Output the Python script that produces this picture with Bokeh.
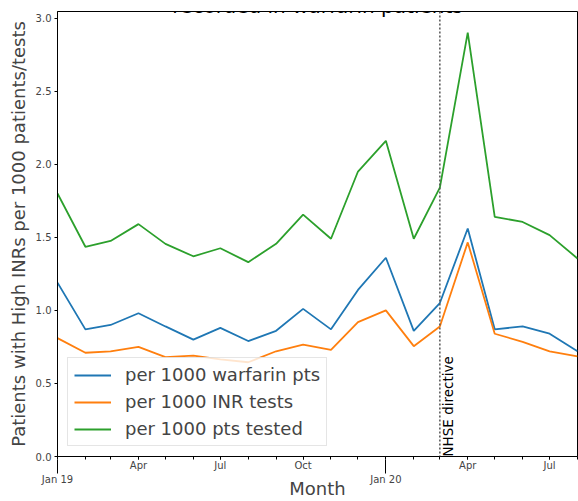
import math
import pandas as pd
from bokeh.plotting import figure
from bokeh.models import (Range1d, FixedTicker, DatetimeTickFormatter, DatetimeAxis,
                          PrintfTickFormatter, Label, Span)
from bokeh.embed import file_html
from bokeh.resources import INLINE

# ---- data ----
months = ["2019-01", "2019-02", "2019-03", "2019-04", "2019-05", "2019-06", "2019-07",
          "2019-08", "2019-09", "2019-10", "2019-11", "2019-12", "2020-01", "2020-02",
          "2020-03", "2020-04", "2020-05", "2020-06", "2020-07", "2020-08"]
per_1000_warfarin_pts = [1.19, 0.87, 0.90, 0.98, 0.89, 0.80, 0.88, 0.79, 0.86, 1.01,
                         0.87, 1.14, 1.36, 0.86, 1.05, 1.56, 0.87, 0.89, 0.84, 0.72]
per_1000_inr_tests = [0.81, 0.71, 0.72, 0.75, 0.68, 0.69, 0.665, 0.645, 0.72, 0.765,
                      0.73, 0.92, 1.00, 0.755, 0.89, 1.465, 0.84, 0.785, 0.72, 0.685]
per_1000_pts_tested = [1.80, 1.435, 1.475, 1.59, 1.455, 1.37, 1.425, 1.33, 1.455, 1.655,
                       1.49, 1.95, 2.16, 1.49, 1.84, 2.90, 1.64, 1.605, 1.515, 1.355]
series_labels = ["per 1000 warfarin pts", "per 1000 INR tests", "per 1000 pts tested"]
directive_date = "2020-03-01"
directive_label = "NHSE directive"
title_text = "recorded in warfarin patients"
x_label = "Month"
y_label = "Patients with High INRs per 1000 patients/tests"
y_ticks = [0.0, 0.5, 1.0, 1.5, 2.0, 2.5, 3.0]
quarter_ticks = ["2019-04", "2019-07", "2019-10", "2020-04", "2020-07"]
year_ticks = ["2019-01", "2020-01"]

colors = ["#1f77b4", "#ff7f0e", "#2ca02c"]
FONT = "DejaVu Sans"
Y_MAX = 3.045
PX_PER_UNIT = 445 / Y_MAX

x = pd.to_datetime(months)
def ms(s):
    return pd.Timestamp(s).value / 1e6

p = figure(width=578, height=501, x_axis_type="datetime",
           output_backend="svg", toolbar_location=None,
           min_border_left=57, min_border_right=1, min_border_top=11, min_border_bottom=45,
           x_range=Range1d(x[0], x[-1]), y_range=Range1d(0, Y_MAX))
p.grid.visible = False
p.outline_line_color = "black"
p.outline_line_width = 1
p.background_fill_color = "white"
p.border_fill_color = "white"

for vals, lab, col in zip([per_1000_warfarin_pts, per_1000_inr_tests, per_1000_pts_tested],
                          series_labels, colors):
    p.line(x, vals, line_color=col, line_width=1.8, legend_label=lab)

# directive line
p.add_layout(Span(location=ms(directive_date), dimension="height", line_color="#555555",
                  line_width=1.5, line_dash="2 2"))
p.add_layout(Label(x=ms(directive_date), y=0, text=directive_label, angle=math.pi / 2,
                   text_align="left", text_baseline="top", text_font=FONT,
                   text_font_size="13.5px", text_color="black"))

x_mid = (ms(months[0]) + ms(months[-1])) / 2
# title (only its lower part is visible, as in the reference)
p.add_layout(Label(x=x_mid, y=Y_MAX + 6 / PX_PER_UNIT,
                   text=title_text, text_align="center", text_baseline="alphabetic",
                   text_font=FONT, text_font_size="20px", text_color="black"))

# x axis A: month labels
xa = p.xaxis[0]
xa.ticker = FixedTicker(ticks=[ms(t) for t in quarter_ticks], minor_ticks=[ms(m) for m in months])
xa.formatter = DatetimeTickFormatter(months="%b", days="%b", years="%b")
xa.major_tick_out = 3
xa.major_tick_in = 0
xa.minor_tick_out = 3
xa.minor_tick_in = 0
xa.major_label_standoff = 0
xa.major_label_text_font = FONT
xa.major_label_text_font_size = "10px"
xa.axis_line_color = "black"

# x axis B: year labels with long ticks, plus the axis title
xb = DatetimeAxis(ticker=FixedTicker(ticks=[ms(t) for t in year_ticks], minor_ticks=[]),
                  formatter=DatetimeTickFormatter(months="%b %y", years="%b %y", days="%b %y"))
xb.axis_line_color = None
xb.major_tick_in = 14
xb.major_tick_out = 0
xb.minor_tick_out = 0
xb.minor_tick_in = 0
xb.major_label_standoff = 0
xb.major_label_text_font = FONT
xb.major_label_text_font_size = "10px"
xb.axis_label = x_label
xb.axis_label_text_font = FONT
xb.axis_label_text_font_style = "normal"
xb.axis_label_text_font_size = "18px"
xb.axis_label_standoff = -10
p.add_layout(xb, "below")

ya = p.yaxis[0]
ya.ticker = FixedTicker(ticks=y_ticks, minor_ticks=[])
ya.formatter = PrintfTickFormatter(format="%.1f")
ya.major_tick_out = 3
ya.major_tick_in = 0
ya.major_label_standoff = 3
ya.major_label_text_font = FONT
ya.major_label_text_font_size = "10px"
ya.axis_label = y_label
ya.axis_label_text_font = FONT
ya.axis_label_text_font_style = "normal"
ya.axis_label_text_font_size = "18px"
ya.axis_label_standoff = 4
ya.axis_line_color = "black"

lg = p.legend[0]
lg.location = "bottom_left"
lg.margin = 10
lg.padding = 6
lg.spacing = 6
lg.glyph_width = 37
lg.glyph_height = 20
lg.label_height = 21
lg.label_standoff = 14
lg.label_text_font = FONT
lg.label_text_font_size = "18px"
lg.border_line_color = "#cccccc"
lg.border_line_width = 1
lg.background_fill_alpha = 0.8

open("out.html", "w").write(file_html(p, INLINE))
